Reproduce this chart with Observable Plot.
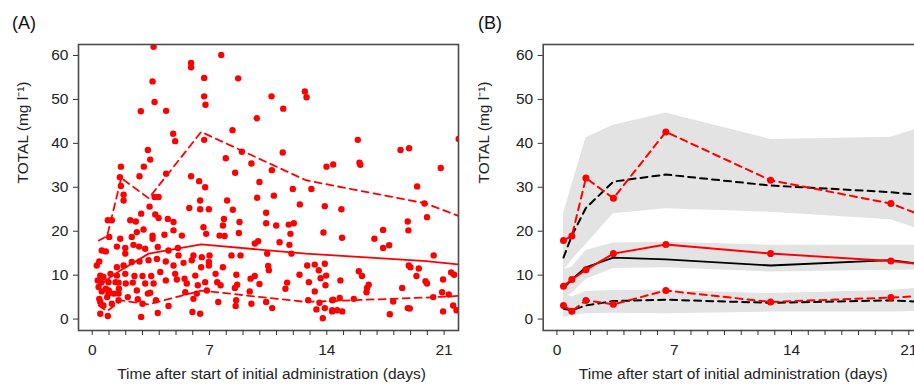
<!DOCTYPE html>
<html><head><meta charset="utf-8">
<script src="https://cdn.jsdelivr.net/npm/d3@7"></script>
<script src="https://cdn.jsdelivr.net/npm/@observablehq/plot@0.6"></script>
<style>
body{margin:0;background:#fff;}
#wrap{position:relative;width:914px;height:385px;overflow:hidden;font-family:"Liberation Sans",Arial,sans-serif;}
.panel{position:absolute;top:0;width:480px;}
.panel svg{max-width:none !important;}
.tag{position:absolute;top:14px;font-size:18px;line-height:18px;color:#111;z-index:2;}
</style></head><body>
<div id="wrap">
 <div id="pa" class="panel" style="left:0"></div>
 <div id="pb" class="panel" style="left:460px"></div>
 <div class="tag" style="left:12px">(A)</div>
 <div class="tag" style="left:478px">(B)</div>
</div>
<script>
// ---- Panel A: observed concentrations (time in days, TOTAL mg/l) ----
const obsTime = [
3.66,5.9,5.9,6.68,3.6,3.72,2.9,4.41,6.68,6.76,4.83,4.95,6.68,3.32,3.46,1.71,3.08,1.65,2.82,4.41,5.9,6.38,1.71,6.74,
7.70,8.71,10.7,12.69,12.79,11.4,9.82,8.37,8.93,7.97,11.37,9.5,8.53,10.72,13.98,14.38,9.98,11.97,13.08,
15.85,18.4,18.91,15.95,16.0,20.8,19.39,21.87,
1.87,1.87,3.72,3.96,3.42,5.79,6.44,6.44,2.92,3.76,3.96,0.93,1.17,2.27,2.6,4.51,4.85,6.64,6.8,
1.01,1.67,2.36,2.66,3.06,3.6,3.6,4.31,4.85,5.35,0.57,0.81,1.47,1.97,1.97,2.46,2.8,3.16,3.91,4.55,5.11,5.15,6.04,6.54,
0.27,0.42,1.47,1.87,2.36,2.82,3.36,3.86,4.39,4.85,5.45,5.94,6.5,
0.48,0.67,0.33,0.54,0.97,1.47,1.97,1.57,2.0,2.42,2.52,3.0,3.16,3.52,3.66,4.06,4.39,4.95,5.05,5.51,5.64,6.15,6.3,6.74,
0.38,0.57,0.81,0.97,1.57,2.12,2.66,3.32,3.46,5.55,6.24,6.84,
0.42,0.48,0.67,1.17,1.57,2.72,3.0,3.8,4.55,6.04,0.48,0.93,2.92,3.91,5.98,6.44,
0.99,0.89,1.29,1.59,1.39,1.09,
8.05,9.84,10.84,8.39,12.39,13.88,6.96,7.86,7.8,8.79,10.38,10.38,10.98,11.73,12.03,13.8,8.75,7.6,7.9,
9.7,9.9,11.18,11.83,11.77,11.89,10.44,8.31,8.85,7.0,6.96,6.96,12.83,13.28,13.88,7.8,10.5,10.54,13.52,
7.36,8.6,9.7,9.45,12.37,12.93,13.63,13.96,7.46,7.66,8.65,8.51,9.98,9.4,11.63,11.53,13.92,13.28,
7.52,8.59,8.56,9.5,10.38,10.74,12.89,13.56,13.38,13.88,14.32,13.76,14.32,
14.87,14.91,17.36,16.84,17.36,17.72,18.83,18.87,19.83,19.98,20.38,18.89,18.99,19.49,19.35,19.89,19.98,20.94,21.42,21.6,
15.91,16.1,16.5,16.4,16.37,14.81,18.5,20.88,21.28,20.35,14.38,14.77,15.61,17.96,14.32,14.62,14.92,17.76,18.83,18.95,20.94,21.54,21.74
];
const obsConc = [
62.0,58.3,57.3,54.9,54.1,49.4,47.3,47.4,50.7,48.8,42.2,40.5,40.8,38.5,36.3,34.7,34.7,32.3,32.5,33.1,32.5,31.4,30.3,30.0,
60.1,54.8,50.7,51.8,50.5,47.9,45.7,43.0,38.1,36.6,37.9,35.4,33.3,33.9,34.7,35.2,31.2,29.6,29.6,
40.8,38.5,38.9,35.6,35.1,34.4,30.2,41.0,
28.3,27.0,27.8,27.8,25.6,25.3,27.0,25.0,24.0,23.8,23.0,22.5,22.5,22.5,22.2,22.8,22.1,20.9,19.4,
18.7,18.3,18.7,19.8,20.4,19.0,18.3,19.2,20.2,19.0,15.6,15.4,16.5,16.2,14.9,16.9,16.5,16.0,16.4,15.6,16.2,14.5,14.5,14.1,
12.2,13.1,11.8,12.2,13.0,13.1,13.4,13.7,13.1,12.2,12.8,13.4,11.8,
9.9,9.6,8.8,8.3,8.4,9.9,10.3,8.3,8.1,8.3,9.8,9.8,8.1,9.8,8.1,10.7,8.8,10.3,9.0,9.2,8.1,9.9,7.7,8.4,
7.3,6.3,6.9,5.8,5.8,5.0,6.5,5.8,6.0,6.1,5.8,6.5,
4.6,3.9,3.1,3.5,4.3,4.5,3.5,4.3,3.0,4.6,1.2,0.7,0.5,1.4,1.6,1.2,
6.5,5.0,5.8,6.9,8.4,10.3,
27.0,27.6,28.1,24.9,26.1,25.7,25.0,22.8,21.3,22.1,24.2,21.8,21.3,21.5,21.8,19.7,19.6,19.0,18.9,
17.2,17.7,17.5,19.4,16.9,14.9,14.9,14.5,14.5,14.5,13.0,12.2,12.2,12.4,12.6,11.8,12.1,11.1,11.1,
10.3,10.1,9.8,9.2,10.1,8.4,9.3,9.9,8.4,7.7,7.8,7.1,8.0,6.3,8.3,6.9,7.7,6.3,
3.9,4.3,3.0,3.5,3.9,2.5,4.3,3.7,2.2,2.5,4.3,0.2,1.75,
25.0,18.5,20.3,18.3,16.2,16.8,22.2,20.2,26.3,23.2,14.5,12.2,11.8,11.5,9.8,8.6,8.1,9.0,10.6,10.1,
10.9,9.8,7.8,7.1,6.1,8.8,7.1,6.1,5.6,5.0,4.4,4.8,4.6,4.0,2.0,2.0,1.75,1.1,2.5,2.4,1.75,3.1,2.0
];

// ---- Time bins (days) ----
const binTime = [0.39, 0.89, 1.73, 3.37, 6.5, 12.75, 19.93, 23.0];
// observed percentiles (red)
const obsP95 = [17.9, 18.9, 32.1, 27.5, 42.6, 31.6, 26.3, 21.8];
const obsP50 = [7.5, 9.0, 11.2, 14.9, 17.0, 14.9, 13.2, 12.0];
const obsP05 = [3.1, 1.8, 4.25, 3.35, 6.5, 3.9, 4.9, 5.5];
// predicted percentiles (black)
const predP95 = [14.0, 19.0, 25.3, 31.3, 32.9, 30.4, 28.9, 27.7];
const predP50 = [7.0, 9.0, 11.8, 14.0, 13.6, 12.2, 13.4, 11.9];
const predP05 = [2.35, 2.0, 3.1, 4.1, 4.4, 3.7, 4.25, 3.7];
// confidence bands of predicted percentiles (grey)
const band95Lo = [11.0, 13.4, 17.0, 24.0, 25.1, 24.3, 22.6, 18.7];
const band95Hi = [24.0, 30.4, 41.3, 44.1, 46.9, 40.9, 41.4, 45.1];
const band50Lo = [5.0, 5.8, 9.0, 11.5, 11.7, 10.7, 11.1, 11.3];
const band50Hi = [11.2, 11.8, 15.6, 17.3, 17.5, 16.8, 16.8, 16.8];
const band05Lo = [0.3, 0.8, 1.2, 1.3, 1.2, 1.6, 1.6, 1.9];
const band05Hi = [6.0, 5.0, 6.3, 6.5, 6.5, 5.8, 6.5, 7.5];

const xMajor = [0, 7, 14, 21];
const xMinor = d3.range(0, 22);
const yTicks = [0, 10, 20, 30, 40, 50, 60];
const yLabel = "TOTAL (mg l\u207B\u00B9)";
const xLabel = "Time after start of initial administration (days)";

const scatter = obsTime.map((t, i) => ({t, v: obsConc[i]}));
const bins = binTime.map((t, i) => ({
  t, o95: obsP95[i], o50: obsP50[i], o05: obsP05[i],
  p95: predP95[i], p50: predP50[i], p05: predP05[i],
  b95l: band95Lo[i], b95h: band95Hi[i], b50l: band50Lo[i], b50h: band50Hi[i],
  b05l: band05Lo[i], b05h: band05Hi[i]
}));

const RED = "#ff0000";
const FONT = "'Liberation Sans', Arial, sans-serif";
const dash = "7,5";

function frameAxes(labelDx, xdx) {
  return [
    Plot.frame({stroke: "#4a4a4a", strokeWidth: 1.6}),
    Plot.axisX({ticks: xMinor, tickSize: 5, tickPadding: 8, fontSize: 15.5,
      tickFormat: d => xMajor.includes(d) ? String(d) : "", label: null, stroke: "#333"}),
    Plot.axisY({ticks: yTicks, tickSize: 5, tickPadding: 5, fontSize: 15.5, label: null, stroke: "#333"}),
    Plot.text([yLabel], {frameAnchor: "left", dx: labelDx, dy: -4, rotate: -90, text: d => d, fontSize: 15.5, fill: "#222"}),
    Plot.text([xLabel], {frameAnchor: "bottom", dy: 48, dx: xdx, text: d => d, fontSize: 15.5, fill: "#222"})
  ];
}

const common = {
  height: 385, marginTop: 44, marginBottom: 55,
  x: {domain: [-0.82, 21.86]},
  y: {domain: [-2.6, 62.5]},
  style: {fontFamily: FONT, fontSize: "15.5px", color: "#222", background: "transparent", overflow: "visible", maxWidth: "none"}
};

const plotA = Plot.plot({
  ...common, width: 460, marginLeft: 78, marginRight: 2,
  marks: [
    Plot.dot(scatter, {x: "t", y: "v", r: 3.2, fill: RED, stroke: "none", clip: true}),
    Plot.line(bins, {x: "t", y: "o50", stroke: RED, strokeWidth: 1.8, clip: true}),
    Plot.line(bins, {x: "t", y: "o95", stroke: RED, strokeWidth: 1.8, strokeDasharray: dash, clip: true}),
    Plot.line(bins, {x: "t", y: "o05", stroke: RED, strokeWidth: 1.8, strokeDasharray: dash, clip: true}),
    ...frameAxes(-55.5, 3)
  ]
});
document.getElementById("pa").appendChild(plotA);

const plotB = Plot.plot({
  ...common, width: 470, marginLeft: 82.7, marginRight: 7.3,
  marks: [
    Plot.areaY(bins, {x: "t", y1: "b95l", y2: "b95h", fill: "#e3e3e3", clip: true}),
    Plot.areaY(bins, {x: "t", y1: "b50l", y2: "b50h", fill: "#e3e3e3", clip: true}),
    Plot.areaY(bins, {x: "t", y1: "b05l", y2: "b05h", fill: "#e3e3e3", clip: true}),
    Plot.line(bins, {x: "t", y: "p50", stroke: "#000", strokeWidth: 1.8, clip: true}),
    Plot.line(bins, {x: "t", y: "p95", stroke: "#000", strokeWidth: 2, strokeDasharray: dash, clip: true}),
    Plot.line(bins, {x: "t", y: "p05", stroke: "#000", strokeWidth: 2, strokeDasharray: dash, clip: true}),
    Plot.line(bins, {x: "t", y: "o50", stroke: RED, strokeWidth: 2, clip: true}),
    Plot.line(bins, {x: "t", y: "o95", stroke: RED, strokeWidth: 2, strokeDasharray: dash, clip: true}),
    Plot.line(bins, {x: "t", y: "o05", stroke: RED, strokeWidth: 2, strokeDasharray: dash, clip: true}),
    Plot.dot(bins, {x: "t", y: "o50", r: 3.5, fill: RED, clip: true}),
    Plot.dot(bins, {x: "t", y: "o95", r: 3.5, fill: RED, clip: true}),
    Plot.dot(bins, {x: "t", y: "o05", r: 3.5, fill: RED, clip: true}),
    ...frameAxes(-58.7, 0)
  ]
});
document.getElementById("pb").appendChild(plotB);
</script>
</body></html>
